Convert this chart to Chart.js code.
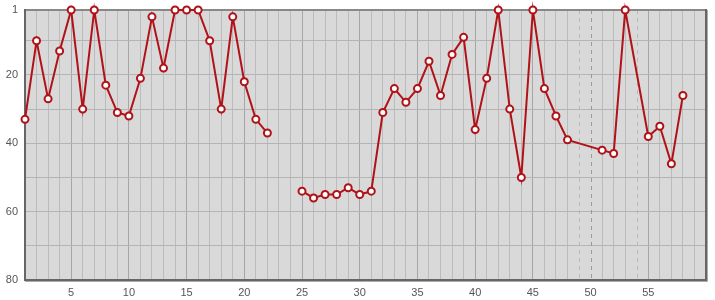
<!DOCTYPE html>
<html>
<head>
<meta charset="utf-8">
<script src="https://cdn.jsdelivr.net/npm/chart.js@4/dist/chart.umd.min.js"></script>
<style>
  html, body { margin: 0; padding: 0; background: #fff; }
  #wrap { width: 715px; height: 300px; }
</style>
</head>
<body>
<div id="wrap"><canvas id="chart"></canvas></div>
<script>
// days and positions (lower is better, y axis reversed)
var days = [1, 2, 3, 4, 5, 6, 7, 8, 9, 10, 11, 12, 13, 14, 15, 16, 17, 18, 19, 20,
            21, 22, 23, 24, 25, 26, 27, 28, 29, 30, 31, 32, 33, 34, 35, 36, 37, 38, 39, 40,
            41, 42, 43, 44, 45, 46, 47, 48, 51, 52, 53, 55, 56, 57, 58];
var positions = [33, 10, 27, 13, 1, 30, 1, 23, 31, 32, 21, 3, 18, 1, 1, 1, 10, 30, 3, 22,
                 33, 37, null, null, 54, 56, 55, 55, 53, 55, 54, 31, 24, 28, 24, 16, 26, 14, 9, 36,
                 21, 1, 30, 50, 1, 24, 32, 39, 42, 43, 1, 38, 35, 46, 26];
var skippedDays = [49, 50, 54];
var yTicks = [1, 10, 20, 30, 40, 50, 60, 70, 80];
var yLabels = [1, 20, 40, 60, 80];
var xLabels = [5, 10, 15, 20, 25, 30, 35, 40, 45, 50, 55];

var points = days.map(function (d, i) { return { x: d, y: positions[i] }; });

var framePlugin = {
    id: "frame",
    beforeDraw: function (chart) {
        var a = chart.chartArea, c = chart.ctx;
        c.save();
        c.fillStyle = "#d9d9d9";
        c.fillRect(a.left, a.top, a.right - a.left, a.bottom - a.top);
        c.restore();
    },
    beforeDatasetsDraw: function (chart) {
        var a = chart.chartArea, c = chart.ctx, xs = chart.scales.x;
        c.save();
        // dashed markers for days with no entry
        c.lineWidth = 1;
        c.setLineDash([4, 4]);
        skippedDays.forEach(function (d) {
            var px = Math.round(xs.getPixelForValue(d)) + 0.5;
            c.strokeStyle = d % 5 === 0 ? "#999" : "#b8b8b8";
            c.beginPath();
            c.moveTo(px, a.top);
            c.lineTo(px, a.bottom);
            c.stroke();
        });
        c.setLineDash([]);
        // frame
        c.strokeStyle = "#aaa";
        c.lineWidth = 1;
        c.beginPath();
        c.moveTo(a.right + 1.5, a.top);
        c.lineTo(a.right + 1.5, a.bottom + 1.5);
        c.lineTo(a.left, a.bottom + 1.5);
        c.stroke();
        c.strokeStyle = "#888";
        c.lineWidth = 2;
        c.beginPath();
        c.moveTo(a.left, a.top);
        c.lineTo(a.right, a.top);
        c.stroke();
        c.strokeStyle = "#666";
        c.beginPath();
        c.moveTo(a.left, a.top - 1);
        c.lineTo(a.left, a.bottom);
        c.lineTo(a.right, a.bottom);
        c.lineTo(a.right, a.top - 1);
        c.stroke();
        c.restore();
    }
};

new Chart(document.getElementById("chart"), {
    type: "line",
    data: {
        datasets: [{
            data: points,
            borderColor: "#b01218",
            borderWidth: 2,
            tension: 0,
            spanGaps: false,
            pointRadius: 3.5,
            pointHoverRadius: 3.5,
            pointBorderWidth: 2,
            pointBackgroundColor: "#fff",
            pointBorderColor: "#b01218",
            clip: false
        }]
    },
    options: {
        responsive: true,
        maintainAspectRatio: false,
        animation: false,
        layout: { padding: { top: 10, right: 9, left: 0, bottom: 0 } },
        plugins: {
            legend: { display: false },
            tooltip: { enabled: false }
        },
        scales: {
            x: {
                type: "linear",
                min: 1,
                max: 60,
                afterBuildTicks: function (scale) {
                    var t = [];
                    for (var v = 1; v <= 60; v++) t.push({ value: v });
                    scale.ticks = t;
                },
                afterFit: function (scale) {
                    scale.height = 20;
                    scale.paddingLeft = 0;
                    scale.paddingRight = 0;
                },
                border: { display: false },
                grid: {
                    drawTicks: false,
                    color: function (ctx) {
                        var v = ctx.tick && ctx.tick.value;
                        if (skippedDays.indexOf(v) >= 0) return "rgba(0,0,0,0)";
                        return v % 5 === 0 ? "#a6a6a6" : "#bcbcbc";
                    }
                },
                ticks: {
                    autoSkip: false,
                    maxRotation: 0,
                    padding: 6,
                    color: "#555",
                    font: { family: "'Liberation Sans', Arial, sans-serif", size: 11 },
                    callback: function (v) { return xLabels.indexOf(v) >= 0 ? String(v) : ""; }
                }
            },
            y: {
                type: "linear",
                reverse: true,
                min: 1,
                max: 80,
                afterBuildTicks: function (scale) {
                    scale.ticks = yTicks.map(function (v) { return { value: v }; });
                },
                afterFit: function (scale) {
                    scale.width = 25;
                    scale.paddingTop = 0;
                    scale.paddingBottom = 0;
                },
                border: { display: false },
                grid: { drawTicks: false, color: "#b4b4b4" },
                ticks: {
                    autoSkip: false,
                    padding: 7,
                    color: "#555",
                    font: { family: "'Liberation Sans', Arial, sans-serif", size: 11 },
                    callback: function (v) { return yLabels.indexOf(v) >= 0 ? String(v) : ""; }
                }
            }
        }
    },
    plugins: [framePlugin]
});
</script>
</body>
</html>
